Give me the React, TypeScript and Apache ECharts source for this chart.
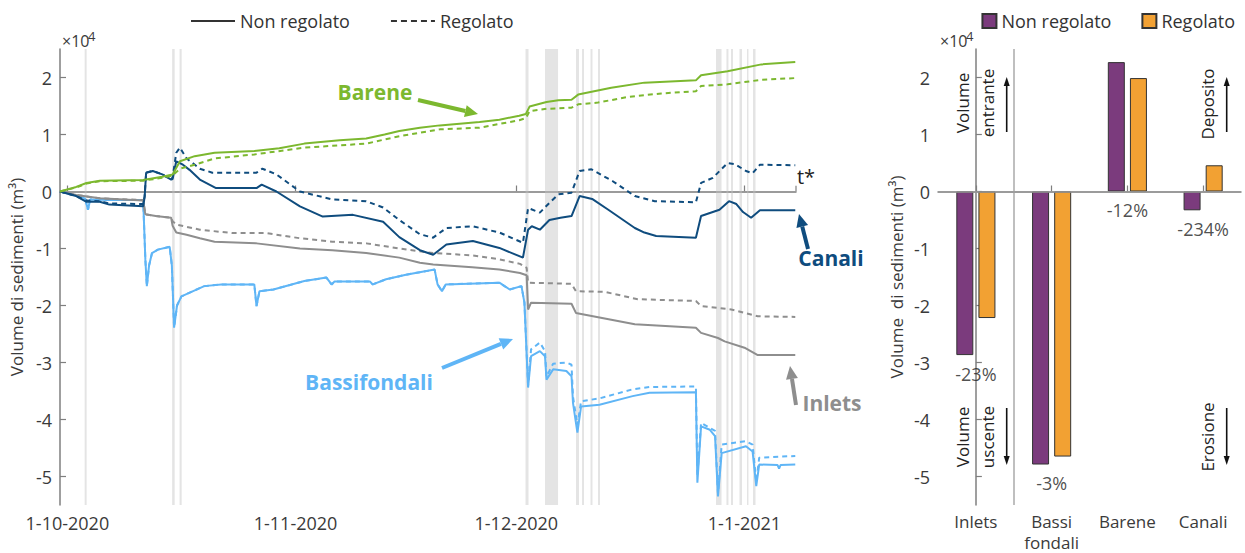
import React, { useEffect, useRef } from "react";
import * as echarts from "echarts";

type Pt = [number, number];

// Time in days counted from 1-10-2020, volumes in units of 10^4 m³
const bareneNonRegolato: Pt[] = [
  [-1, 0], [1.2, 0.08], [2.6, 0.15], [4.4, 0.19], [10.3, 0.2], [12.9, 0.26], [14.3, 0.3], [15.3, 0.53],
  [17.3, 0.62], [20, 0.68], [25.4, 0.71], [28.8, 0.76], [32.2, 0.84], [37, 0.9], [40.6, 0.93], [43.1, 1.0],
  [45.1, 1.06], [47.9, 1.12], [50.6, 1.16], [56, 1.22], [58.7, 1.26], [61.4, 1.33], [62.3, 1.36], [62.8, 1.49],
  [65.1, 1.57], [66.7, 1.6], [68.5, 1.61], [69.4, 1.7], [73.9, 1.82], [78.4, 1.91], [85.4, 1.95], [86.1, 2.04],
  [89.7, 2.11], [94.3, 2.23], [98.9, 2.27],
];
const bareneRegolato: Pt[] = [
  [-1, 0], [1.2, 0.07], [2.6, 0.14], [4.4, 0.18], [10.3, 0.19], [12.9, 0.24], [14.3, 0.28], [15.3, 0.4],
  [17.3, 0.47], [20, 0.58], [25.4, 0.65], [32.2, 0.77], [40.6, 0.84], [45.1, 0.97], [50.6, 1.09], [56, 1.12],
  [61.4, 1.25], [62.3, 1.29], [62.8, 1.41], [65.1, 1.45], [68.5, 1.47], [69.4, 1.53], [72.1, 1.56], [76.2, 1.66],
  [80.7, 1.72], [85.4, 1.76], [86.1, 1.85], [89.7, 1.88], [94.3, 1.96], [98.9, 1.99],
];
const canaliNonRegolato: Pt[] = [
  [-1, 0], [1.2, -0.08], [2.6, -0.18], [4.4, -0.18], [5.7, -0.23], [10.3, -0.26], [10.5, -0.1], [10.7, 0.33],
  [11.6, 0.36], [12.9, 0.3], [14.1, 0.21], [14.3, 0.22], [14.8, 0.53], [15.7, 0.47], [16.6, 0.38], [18.0, 0.21],
  [20.2, 0.06], [25.7, 0.06], [26.4, 0.12], [28.4, 0.0], [31.6, -0.26], [34.7, -0.44], [38.8, -0.41],
  [42.9, -0.53], [45.1, -0.8], [47.9, -1.03], [49.7, -1.11], [51.5, -0.93], [55.1, -0.87], [58.7, -0.99],
  [61.9, -1.16], [62.6, -0.67], [63.1, -0.61], [64.2, -0.67], [65.5, -0.5], [67, -0.46], [68.5, -0.43],
  [69.6, -0.08], [71.3, -0.13], [73.5, -0.32], [77.1, -0.64], [78.4, -0.72], [80, -0.78], [85.4, -0.81],
  [86.1, -0.43], [88.6, -0.32], [89.9, -0.17], [90.9, -0.22], [91.8, -0.36], [92.9, -0.46], [94.1, -0.33],
  [98.9, -0.33],
];
const canaliRegolato: Pt[] = [
  [-1, 0], [1.2, -0.08], [2.6, -0.16], [4.4, -0.17], [5.7, -0.21], [10.3, -0.22], [10.5, -0.08], [10.7, 0.33],
  [11.6, 0.36], [12.9, 0.3], [14.1, 0.21], [14.3, 0.25], [14.8, 0.68], [15.3, 0.77], [16.2, 0.58], [18.0, 0.4],
  [19.7, 0.33], [25.7, 0.33], [26.5, 0.4], [28.4, 0.3], [31.6, 0.0], [36.0, -0.14], [40.6, -0.17],
  [42.9, -0.28], [45.1, -0.5], [47.9, -0.75], [49.7, -0.81], [51.5, -0.64], [55.1, -0.61], [58.7, -0.72],
  [61.9, -0.9], [62.6, -0.29], [64.2, -0.37], [65.5, -0.2], [66.7, -0.05], [68.5, -0.02], [69.6, 0.36],
  [71.2, 0.39], [74.1, 0.18], [77.1, -0.08], [79.8, -0.17], [85.4, -0.19], [86.1, 0.15], [87.7, 0.24],
  [89.7, 0.5], [90.7, 0.48], [92.2, 0.36], [93.1, 0.32], [94.1, 0.47], [98.9, 0.46],
];
const inletsNonRegolato: Pt[] = [
  [-1, 0], [1.2, -0.06], [4.4, -0.12], [10.3, -0.16], [10.6, -0.4], [12, -0.43], [14.1, -0.46], [14.3, -0.6],
  [14.8, -0.72], [16.2, -0.76], [18, -0.82], [20, -0.88], [25.7, -0.91], [31.6, -1.0], [36, -1.03],
  [40.6, -1.08], [45.1, -1.16], [47.9, -1.25], [49.7, -1.28], [55, -1.33], [58.7, -1.37], [61.5, -1.43],
  [62.4, -1.47], [62.6, -2.07], [63.0, -1.95], [68.5, -1.97], [69.1, -2.13], [73.9, -2.25], [77.1, -2.33],
  [85.4, -2.39], [86.1, -2.48], [88.4, -2.57], [89.3, -2.63], [92, -2.74], [93.8, -2.87], [98.9, -2.87],
];
const inletsRegolato: Pt[] = [
  [-1, 0], [1.2, -0.06], [4.4, -0.12], [10.3, -0.15], [10.6, -0.4], [12, -0.43], [14.1, -0.46], [14.3, -0.52],
  [14.8, -0.58], [18, -0.67], [22.5, -0.73], [27, -0.73], [31.6, -0.82], [36, -0.88], [40.6, -0.91],
  [45.1, -1.0], [47.9, -1.05], [49.7, -1.08], [55, -1.12], [58.7, -1.19], [61.5, -1.27], [62.4, -1.34],
  [62.6, -1.6], [68.5, -1.62], [69.1, -1.75], [73, -1.76], [77.5, -1.89], [85.4, -1.92], [86.1, -2.01],
  [90.2, -2.07], [93.8, -2.19], [98.9, -2.2],
];
// Both Bassifondali scenarios coincide until the start of December
const bassifondaliComune: Pt[] = [
  [-1, 0], [0.5, -0.05], [2.4, -0.12], [2.8, -0.32], [3.1, -0.14], [6, -0.15], [10.3, -0.15], [10.6, -1.2],
  [10.8, -1.66], [11.1, -1.3], [11.5, -1.08], [12.3, -1.02], [13.9, -0.97], [14.2, -1.3], [14.5, -2.39],
  [14.9, -2.0], [15.5, -1.84], [18.6, -1.66], [20.9, -1.63], [25.4, -1.63], [25.7, -2.01], [26.1, -1.75],
  [28, -1.72], [32.2, -1.57], [35.2, -1.51], [35.9, -1.63], [36.3, -1.58], [41.1, -1.58], [41.5, -1.63],
  [43.3, -1.54], [46, -1.46], [49.9, -1.37], [50.3, -1.63], [50.9, -1.75], [51.4, -1.63], [58.7, -1.6],
  [60.1, -1.72], [61.7, -1.66], [62.1, -1.95],
];
const bassifondaliNonRegolatoDic: Pt[] = [
  [62.6, -3.44], [63.0, -2.89], [64.2, -2.8], [64.9, -2.89], [65.1, -3.3], [66.0, -3.12], [67.8, -3.15],
  [68.5, -3.24], [68.7, -3.71], [69.3, -4.23], [69.8, -3.77], [72.3, -3.74], [76.8, -3.59], [79.1, -3.53],
  [85.4, -3.52], [85.6, -5.11], [86.1, -4.12], [87.3, -4.18], [88.0, -4.29], [88.4, -5.35], [88.9, -4.59],
  [92.2, -4.47], [93.1, -4.56], [93.6, -5.17], [94.0, -4.79], [96.5, -4.8], [96.7, -4.86], [96.9, -4.8],
  [98.9, -4.79],
];
const bassifondaliRegolatoDic: Pt[] = [
  [62.6, -3.4], [63.0, -2.77], [64.2, -2.65], [64.9, -2.8], [65.1, -3.25], [66.0, -3.02], [67.8, -3.0],
  [68.5, -3.04], [68.7, -3.6], [69.3, -4.1], [69.8, -3.68], [72.3, -3.63], [76.8, -3.47], [79.1, -3.43],
  [85.4, -3.42], [85.6, -5.0], [86.1, -4.06], [88.0, -4.2], [88.4, -5.3], [88.9, -4.44], [92.2, -4.38],
  [93.1, -4.44], [93.6, -5.1], [94.0, -4.67], [98.9, -4.64],
];

// Storm / regulation windows, in days from 1-10-2020
const eventWindows: Pt[] = [
  [2.35, 2.62], [14.24, 14.58], [15.25, 15.53], [62.25, 62.66], [64.9, 66.67], [69.11, 69.52], [69.93, 70.2],
  [71.08, 71.35], [72.1, 72.37], [88.13, 88.88], [89.55, 89.82], [90.17, 90.44], [91.32, 91.66],
  [92.34, 92.54], [93.16, 93.5],
];

const dateTicks = ["2020-10-01", "2020-11-01", "2020-12-01", "2021-01-01"];
const volumeTicks = [-5, -4, -3, -2, -1, 0, 1, 2];

// Final balance at t*
const barCategories = ["Inlets", "Bassi\nfondali", "Barene", "Canali"];
const barNonRegolato = [-2.87, -4.79, 2.27, -0.33];
const barRegolato = [-2.22, -4.65, 1.99, 0.46];
const barChange = ["-23%", "-3%", "-12%", "-234%"];
// Boundary between inlet exchange and internal morphological units (category index space)
const exchangeBoundary = 0.5;

const GREEN = "#7cb82f";
const NAVY = "#0f4c7e";
const GREY = "#8e8e8e";
const SKY = "#5fb5f6";
const PURPLE = "#7b3b7d";
const ORANGE = "#f2a133";
const AXIS = "#7f7f7f";
const TEXT = "#3a3a3a";
const FONT = "Open Sans";

const DAY = 86400000;
const parseDay = (s: string) => {
  const [y, m, d] = s.split("-").map(Number);
  return new Date(y, m - 1, d).getTime();
};
const ORIGIN = parseDay("2020-10-01");
const START = parseDay("2020-09-30");
const END = parseDay("2021-01-08");
const toTs = (d: number) => ORIGIN + d * DAY;

function arrow(x1: number, y1: number, x2: number, y2: number, color: string, width: number, headLen: number, headW: number) {
  const dx = x2 - x1;
  const dy = y2 - y1;
  const len = Math.hypot(dx, dy);
  const ux = dx / len;
  const uy = dy / len;
  const bx = x2 - ux * headLen;
  const by = y2 - uy * headLen;
  const px = -uy;
  const py = ux;
  return [
    { type: "line", silent: true, shape: { x1, y1, x2: bx, y2: by }, style: { stroke: color, lineWidth: width } },
    {
      type: "polygon",
      silent: true,
      shape: { points: [[x2, y2], [bx + (px * headW) / 2, by + (py * headW) / 2], [bx - (px * headW) / 2, by - (py * headW) / 2]] },
      style: { fill: color },
    },
  ];
}

function label(x: number, y: number, text: string, color: string, size: number, weight = "normal", rotation = 0) {
  return {
    type: "text",
    silent: true,
    x,
    y,
    rotation,
    style: { text, fill: color, fontSize: size, fontWeight: weight, fontFamily: FONT, align: "center", verticalAlign: "middle" },
  };
}

function timeSeries(name: string, pts: Pt[], color: string, dashed: boolean, z: number) {
  return {
    type: "line",
    name,
    xAxisIndex: 0,
    yAxisIndex: 0,
    data: pts.map(([d, v]) => [toTs(d), v]),
    showSymbol: false,
    symbol: "none",
    silent: true,
    z,
    itemStyle: { color },
    lineStyle: { color, width: 2, type: dashed ? [5, 4] : "solid" },
  };
}

export default function App() {
  const ref = useRef<HTMLDivElement>(null);

  useEffect(() => {
    if (!ref.current) return;
    const chart = echarts.init(ref.current, undefined, { renderer: "svg" });

    const yAxisBase = {
      type: "value",
      min: -5.5,
      max: 2.5,
      axisLine: { show: true, lineStyle: { color: AXIS, width: 1.5 } },
      axisTick: { show: true, inside: true, length: 6, customValues: volumeTicks, lineStyle: { color: AXIS, width: 1.2 } },
      axisLabel: { customValues: volumeTicks, fontSize: 18, color: TEXT, margin: 8, fontFamily: FONT },
      splitLine: { show: false },
      nameLocation: "middle",
      nameRotate: 90,
      nameTextStyle: { fontSize: 17, color: TEXT, fontFamily: FONT },
    };

    const option: any = {
      animation: false,
      textStyle: { fontFamily: FONT },
      grid: [
        { left: 60, right: 449, top: 49, bottom: 48, containLabel: false, outerBoundsMode: "none" },
        { left: 938, right: 4, top: 49, bottom: 48, containLabel: false, outerBoundsMode: "none" },
      ],
      xAxis: [
        {
          type: "value",
          gridIndex: 0,
          min: START,
          max: END,
          axisLine: { show: true, lineStyle: { color: AXIS, width: 1.5 } },
          axisTick: { show: true, inside: true, length: 6, customValues: dateTicks.map(parseDay), lineStyle: { color: AXIS, width: 1.2 } },
          axisLabel: {
            customValues: dateTicks.map(parseDay),
            fontSize: 18,
            color: TEXT,
            margin: 9,
            fontFamily: FONT,
            formatter: (v: number) => {
              const d = new Date(v);
              return `${d.getDate()}-${d.getMonth() + 1}-${d.getFullYear()}`;
            },
          },
          splitLine: { show: false },
        },
        {
          type: "category",
          gridIndex: 1,
          data: barCategories,
          axisLine: { show: true, lineStyle: { color: AXIS, width: 1.5 } },
          axisTick: { show: true, inside: true, alignWithLabel: true, length: 6, lineStyle: { color: AXIS, width: 1.2 } },
          axisLabel: { interval: 0, hideOverlap: false, fontSize: 17, color: TEXT, margin: 6, lineHeight: 21, fontFamily: FONT },
          splitLine: { show: false },
        },
        {
          type: "value",
          gridIndex: 1,
          min: -0.5,
          max: barCategories.length - 0.5,
          show: false,
        },
      ],
      yAxis: [
        { ...yAxisBase, gridIndex: 0, name: "Volume di sedimenti (m³)", nameGap: 33 },
        { ...yAxisBase, gridIndex: 1, name: "Volume  di sedimenti (m³)", nameGap: 33 },
      ],
      legend: [
        {
          left: 185,
          top: 7,
          itemWidth: 44,
          itemHeight: 14,
          itemGap: 40,
          selectedMode: false,
          data: ["Non regolato (linea)", "Regolato (linea)"],
          formatter: (n: string) => n.replace(" (linea)", ""),
          itemStyle: { opacity: 0 },
          textStyle: { fontSize: 18, color: "#333", fontFamily: FONT },
        },
        {
          right: 5,
          top: 7,
          orient: "horizontal",
          itemWidth: 14,
          itemHeight: 14,
          itemGap: 30,
          icon: "rect",
          selectedMode: false,
          data: ["Non regolato", "Regolato"],
          textStyle: { fontSize: 18, color: "#333", fontFamily: FONT },
        },
      ],
      series: [
        {
          type: "line",
          name: "eventi",
          xAxisIndex: 0,
          yAxisIndex: 0,
          data: [],
          silent: true,
          markArea: {
            silent: true,
            itemStyle: { color: "#e4e4e4" },
            data: eventWindows.map(([a, b]) => [{ xAxis: toTs(a) }, { xAxis: toTs(b) }]),
          },
          markLine: {
            silent: true,
            symbol: "none",
            label: { show: false },
            lineStyle: { color: "#9a9a9a", width: 1.5, type: "solid" },
            data: [
              [{ coord: [START, 0] }, { coord: [END, 0] }],
              [{ coord: [END, 0] }, { coord: [END, 0.1] }],
            ],
          },
        },
        {
          type: "line",
          name: "Non regolato (linea)",
          xAxisIndex: 0,
          yAxisIndex: 0,
          data: [],
          symbol: "none",
          itemStyle: { color: "#333" },
          lineStyle: { color: "#333", width: 2.5 },
        },
        {
          type: "line",
          name: "Regolato (linea)",
          xAxisIndex: 0,
          yAxisIndex: 0,
          data: [],
          symbol: "none",
          itemStyle: { color: "#333" },
          lineStyle: { color: "#333", width: 2.5, type: [6, 4] },
        },
        timeSeries("Bassifondali - Regolato", [...bassifondaliComune, ...bassifondaliRegolatoDic], SKY, true, 3),
        timeSeries("Bassifondali - Non regolato", [...bassifondaliComune, ...bassifondaliNonRegolatoDic], SKY, false, 4),
        timeSeries("Inlets - Regolato", inletsRegolato, GREY, true, 5),
        timeSeries("Inlets - Non regolato", inletsNonRegolato, GREY, false, 6),
        timeSeries("Canali - Regolato", canaliRegolato, NAVY, true, 7),
        timeSeries("Canali - Non regolato", canaliNonRegolato, NAVY, false, 8),
        timeSeries("Barene - Regolato", bareneRegolato, GREEN, true, 9),
        timeSeries("Barene - Non regolato", bareneNonRegolato, GREEN, false, 10),
        {
          type: "line",
          name: "separatore",
          xAxisIndex: 2,
          yAxisIndex: 1,
          data: [],
          silent: true,
          markLine: {
            silent: true,
            symbol: "none",
            label: { show: false },
            lineStyle: { color: "#aaaaaa", width: 1.5, type: "solid" },
            data: [{ xAxis: exchangeBoundary }],
          },
        },
        {
          type: "bar",
          name: "Non regolato",
          xAxisIndex: 1,
          yAxisIndex: 1,
          data: barNonRegolato,
          barWidth: 17,
          barGap: "30%",
          silent: true,
          itemStyle: { color: PURPLE, borderColor: "#333", borderWidth: 1 },
          markLine: {
            silent: true,
            symbol: "none",
            label: { show: false },
            lineStyle: { color: "#9a9a9a", width: 1.5, type: "solid" },
            data: [{ yAxis: 0 }],
          },
        },
        {
          type: "bar",
          name: "Regolato",
          xAxisIndex: 1,
          yAxisIndex: 1,
          data: barRegolato,
          barWidth: 17,
          barGap: "30%",
          silent: true,
          itemStyle: { color: ORANGE, borderColor: "#333", borderWidth: 1 },
        },
        {
          type: "scatter",
          name: "variazione",
          xAxisIndex: 1,
          yAxisIndex: 1,
          silent: true,
          symbolSize: 1,
          itemStyle: { color: "rgba(0,0,0,0)" },
          data: barNonRegolato.map((nr, i) => [i, Math.min(0, nr, barRegolato[i])]),
          label: {
            show: true,
            position: "bottom",
            distance: 9,
            fontSize: 18,
            color: "#222",
            fontFamily: FONT,
            formatter: (p: any) => barChange[p.dataIndex],
          },
        },
      ],
      graphic: [
        { type: "text", silent: true, x: 62, y: 41, style: { text: "×10", fill: TEXT, fontSize: 16, fontFamily: FONT, align: "left", verticalAlign: "middle" } },
        { type: "text", silent: true, x: 88, y: 36, style: { text: "4", fill: TEXT, fontSize: 13, fontFamily: FONT, align: "left", verticalAlign: "middle" } },
        { type: "text", silent: true, x: 940, y: 41, style: { text: "×10", fill: TEXT, fontSize: 16, fontFamily: FONT, align: "left", verticalAlign: "middle" } },
        { type: "text", silent: true, x: 966, y: 36, style: { text: "4", fill: TEXT, fontSize: 13, fontFamily: FONT, align: "left", verticalAlign: "middle" } },
        label(375, 92, "Barene", GREEN, 21, "bold"),
        ...arrow(418, 100, 478, 114, GREEN, 4, 13, 12),
        label(369, 382, "Bassifondali", SKY, 21, "bold"),
        ...arrow(442, 368, 513, 339, SKY, 4, 13, 12),
        label(831, 258, "Canali", NAVY, 21, "bold"),
        ...arrow(808, 249, 799, 214, NAVY, 4, 13, 12),
        label(832, 403, "Inlets", GREY, 21, "bold"),
        ...arrow(796, 405, 790, 366, GREY, 4, 13, 12),
        label(806, 176, "t*", "#222", 20),
        label(962, 103, "Volume", "#222", 17, "normal", Math.PI / 2),
        label(987, 103, "entrante", "#222", 17, "normal", Math.PI / 2),
        label(962, 437, "Volume", "#222", 17, "normal", Math.PI / 2),
        label(987, 437, "uscente", "#222", 17, "normal", Math.PI / 2),
        label(1207, 104, "Deposito", "#222", 17, "normal", Math.PI / 2),
        label(1207, 437, "Erosione", "#222", 17, "normal", Math.PI / 2),
        ...arrow(1006.7, 132, 1006.7, 77, "#111", 1.6, 9, 6),
        ...arrow(1006.7, 408, 1006.7, 465, "#111", 1.6, 9, 6),
        ...arrow(1226.7, 132, 1226.7, 77, "#111", 1.6, 9, 6),
        ...arrow(1226.7, 408, 1226.7, 465, "#111", 1.6, 9, 6),
      ],
    };

    chart.setOption(option);
    return () => chart.dispose();
  }, []);

  return <div ref={ref} style={{ position: "fixed", left: 0, top: 0, width: 1245, height: 553, background: "#fff" }} />;
}
